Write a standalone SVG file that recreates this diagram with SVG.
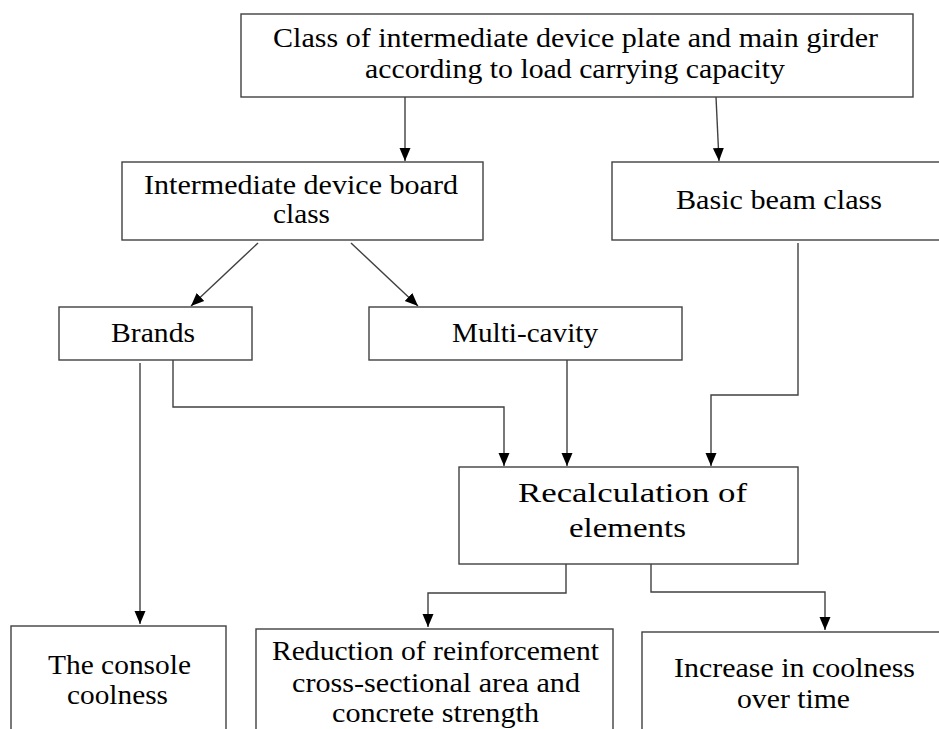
<svg xmlns="http://www.w3.org/2000/svg" width="939" height="729" viewBox="0 0 939 729">
<defs>
<style>
.box{fill:#fff;stroke:#404040;stroke-width:1.4}
.t{font-family:"Liberation Serif","Times New Roman",Times,serif;fill:#000;font-size:28px}
.c{stroke:#404040;stroke-width:1.4;fill:none}
</style>
<marker id="ah" markerUnits="userSpaceOnUse" markerWidth="13" markerHeight="13" viewBox="0 0 13 11" refX="13" refY="5.5" orient="auto">
<path d="M0,0 L13,5.5 L0,11 z" fill="#000"/>
</marker>
</defs>
<rect width="939" height="729" fill="#fff"/>
<g id="connectors">
<line class="c" x1="405" y1="97" x2="405" y2="161" marker-end="url(#ah)"/>
<line class="c" x1="716" y1="97" x2="719" y2="161" marker-end="url(#ah)"/>
<line class="c" x1="258" y1="243" x2="191" y2="306" marker-end="url(#ah)"/>
<line class="c" x1="351" y1="243" x2="418" y2="306" marker-end="url(#ah)"/>
<line class="c" x1="140" y1="363" x2="140" y2="624" marker-end="url(#ah)"/>
<path class="c" d="M173,360 V407 H504 V466" marker-end="url(#ah)"/>
<line class="c" x1="567" y1="360" x2="567" y2="466" marker-end="url(#ah)"/>
<path class="c" d="M798,243 V395 H711 V466" marker-end="url(#ah)"/>
<path class="c" d="M566,564 V593 H428 V627" marker-end="url(#ah)"/>
<path class="c" d="M651,564 V592 H825 V630" marker-end="url(#ah)"/>
</g>
<g id="top">
<rect class="box" x="241" y="14" width="672" height="83"/>
<text class="t" x="273" y="47" font-size="27" textLength="605" lengthAdjust="spacingAndGlyphs">Class of intermediate device plate and main girder</text>
<text class="t" x="365" y="78" font-size="27" textLength="420" lengthAdjust="spacingAndGlyphs">according to load carrying capacity</text>
</g>
<g id="intermediate">
<rect class="box" x="122" y="162" width="361" height="78"/>
<text class="t" x="144" y="194" textLength="314" lengthAdjust="spacingAndGlyphs">Intermediate device board</text>
<text class="t" x="273" y="223" textLength="57" lengthAdjust="spacingAndGlyphs">class</text>
</g>
<g id="basic">
<rect class="box" x="612" y="162" width="340" height="78"/>
<text class="t" x="676" y="209" textLength="206" lengthAdjust="spacingAndGlyphs">Basic beam class</text>
</g>
<g id="brands">
<rect class="box" x="59" y="307" width="193" height="53"/>
<text class="t" x="111" y="342" textLength="84" lengthAdjust="spacingAndGlyphs">Brands</text>
</g>
<g id="multicavity">
<rect class="box" x="369" y="307" width="313" height="53"/>
<text class="t" x="452" y="342" textLength="146" lengthAdjust="spacingAndGlyphs">Multi-cavity</text>
</g>
<g id="recalc">
<rect class="box" x="459" y="467" width="339" height="97"/>
<text class="t" x="518" y="502" font-size="30" textLength="229" lengthAdjust="spacingAndGlyphs">Recalculation of</text>
<text class="t" x="569" y="537" font-size="30" textLength="117" lengthAdjust="spacingAndGlyphs">elements</text>
</g>
<g id="console">
<rect class="box" x="11" y="626" width="215" height="120"/>
<text class="t" x="48" y="674" font-size="27" textLength="143" lengthAdjust="spacingAndGlyphs">The console</text>
<text class="t" x="67" y="704" font-size="27" textLength="101" lengthAdjust="spacingAndGlyphs">coolness</text>
</g>
<g id="reduction">
<rect class="box" x="256" y="629" width="357" height="120"/>
<text class="t" x="272" y="660" font-size="27" textLength="327" lengthAdjust="spacingAndGlyphs">Reduction of reinforcement</text>
<text class="t" x="292" y="692" font-size="27" textLength="288" lengthAdjust="spacingAndGlyphs">cross-sectional area and</text>
<text class="t" x="332" y="722" font-size="27" textLength="207" lengthAdjust="spacingAndGlyphs">concrete strength</text>
</g>
<g id="increase">
<rect class="box" x="642" y="632" width="310" height="120"/>
<text class="t" x="674" y="677" font-size="27" textLength="241" lengthAdjust="spacingAndGlyphs">Increase in coolness</text>
<text class="t" x="737" y="708" font-size="27" textLength="113" lengthAdjust="spacingAndGlyphs">over time</text>
</g>
</svg>
